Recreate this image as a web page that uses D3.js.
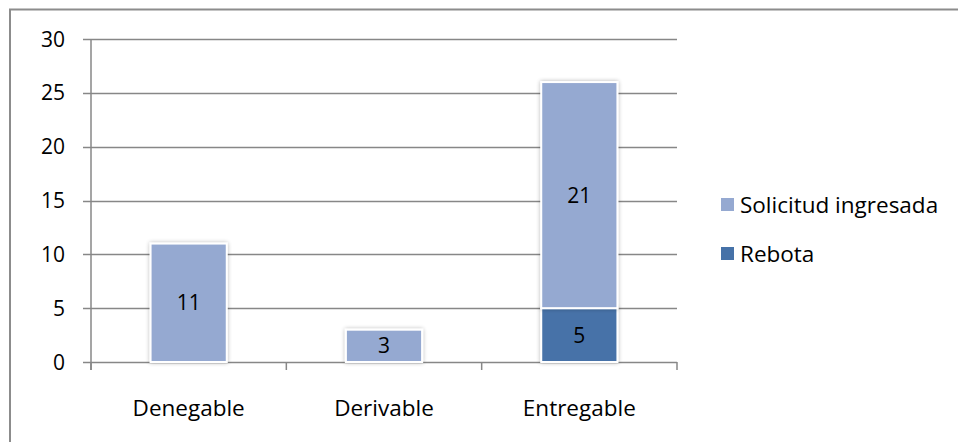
<!DOCTYPE html>
<html><head><meta charset="utf-8">
<script src="https://cdn.jsdelivr.net/npm/d3@7"></script>
<style>body{margin:0;background:#fff}svg{display:block}text{font-family:"Open Sans",Lato,sans-serif}</style>
</head><body><svg id="c" width="958" height="442"></svg>
<script>
const categories = ["Denegable","Derivable","Entregable"];
const seriesNames = ["Rebota","Solicitud ingresada"];
const rebota = [0,0,5];
const solicitud = [11,3,21];
const yTicks = [0,5,10,15,20,25,30];
const colors = {"Rebota":"#4672A8","Solicitud ingresada":"#95A9D1"};
const FS = 22.5, FN = 21;

const svg = d3.select("#c");
svg.append("rect").attr("x",10).attr("y",9.5).attr("width",960).attr("height",440)
  .attr("fill","none").attr("stroke","#8c8c8c").attr("stroke-width",2);

const x0=91, x1=677, yTop=39, yBot=362;
const x = d3.scaleBand().domain(categories).range([x0,x1]).paddingInner(0.61).paddingOuter(0.305);
const y = d3.scaleLinear().domain([0,30]).range([yBot,yTop]);

const defs = svg.append("defs");
const f = defs.append("filter").attr("id","sh").attr("x","-20%").attr("y","-20%").attr("width","140%").attr("height","140%");
f.append("feGaussianBlur").attr("in","SourceAlpha").attr("stdDeviation",2).attr("result","b");
f.append("feComponentTransfer").attr("in","b").attr("result","o2").append("feFuncA").attr("type","linear").attr("slope",0.3);
const m = f.append("feMerge"); m.append("feMergeNode").attr("in","o2"); m.append("feMergeNode").attr("in","SourceGraphic");

// gridlines
svg.append("g").selectAll("line").data(yTicks).join("line")
  .attr("x1",83).attr("x2",x1).attr("y1",d=>Math.round(y(d))+0.5).attr("y2",d=>Math.round(y(d))+0.5)
  .attr("stroke","#878787").attr("stroke-width",1.5);
// y axis
svg.append("line").attr("x1",x0).attr("x2",x0).attr("y1",yTop).attr("y2",yBot+8).attr("stroke","#878787").attr("stroke-width",1.5);
// category ticks
const bounds = [x0, ...categories.map((c,i)=> i<categories.length-1 ? (x(c)+x.bandwidth()+x(categories[i+1]))/2 : x1)];
svg.append("g").selectAll("line").data(bounds).join("line")
  .attr("x1",d=>d).attr("x2",d=>d).attr("y1",yBot).attr("y2",yBot+8).attr("stroke","#878787").attr("stroke-width",1.5);

// y labels
svg.append("g").selectAll("text").data(yTicks).join("text")
  .attr("x",65).attr("y",d=>y(d)).attr("dy","0.36em").attr("text-anchor","end")
  .attr("font-size",FN).attr("fill","#000").text(d=>d);
// x labels
svg.append("g").selectAll("text").data(categories).join("text")
  .attr("x",d=>x(d)+x.bandwidth()/2).attr("y",416).attr("text-anchor","middle")
  .attr("font-size",FS).attr("fill","#000").text(d=>d);

const data = categories.map((c,i)=>({cat:c,"Rebota":rebota[i],"Solicitud ingresada":solicitud[i]}));
const stacked = d3.stack().keys(seriesNames)(data);
const g = svg.append("g");
stacked.forEach(s=>{
  s.forEach(d=>{
    if(d[1]-d[0]<=0) return;
    g.append("rect").attr("x",x(d.data.cat)).attr("width",x.bandwidth())
      .attr("y",y(d[1])).attr("height",y(d[0])-y(d[1]))
      .attr("fill",colors[s.key]).attr("stroke","#fff").attr("stroke-width",2).attr("filter","url(#sh)");
  });
});
stacked.forEach(s=>{
  s.forEach(d=>{
    if(d[1]-d[0]<=0) return;
    g.append("text").attr("x",x(d.data.cat)+x.bandwidth()/2).attr("y",(y(d[0])+y(d[1]))/2)
      .attr("dy","0.36em").attr("text-anchor","middle").attr("font-size",FN).attr("fill","#000")
      .text(d[1]-d[0]);
  });
});

// legend
const legend = svg.append("g");
const legItems = ["Solicitud ingresada","Rebota"];
legItems.forEach((k,i)=>{
  const ly = 205 + i*49;
  legend.append("rect").attr("x",721).attr("y",ly-7).attr("width",13).attr("height",13).attr("fill",colors[k]);
  legend.append("text").attr("x",740).attr("y",ly).attr("dy","0.36em").attr("font-size",FS).attr("fill","#000").text(k);
});
</script></body></html>
